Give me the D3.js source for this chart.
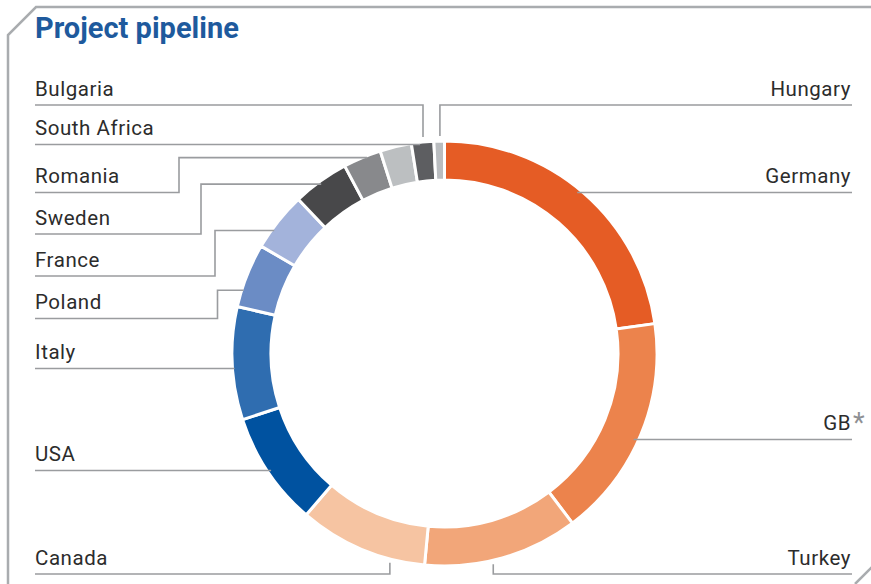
<!DOCTYPE html>
<html>
<head>
<meta charset="utf-8">
<script src="https://cdn.jsdelivr.net/npm/d3@7"></script>
<style>
  html, body { margin: 0; padding: 0; background: #ffffff; }
  svg { display: block; }
</style>
</head>
<body>
<svg id="chart" width="871" height="584"></svg>
<script>
// ---- data (share of pipeline, %) ----
const countries = ["Germany", "GB", "Turkey", "Canada", "USA", "Italy", "Poland", "France", "Sweden", "Romania", "South Africa", "Bulgaria", "Hungary"];
const shares    = [22.8, 17.0, 11.8, 9.8, 8.7, 8.6, 4.9, 4.5, 4.3, 2.9, 2.4, 1.7, 0.8];
const colors    = ["#E55C25", "#EC834C", "#F2A679", "#F6C4A2", "#0052A0", "#2F6DB0", "#6B8CC5", "#A3B3DB", "#48484A", "#88898C", "#BCBFC1", "#5D5E61", "#BABDC0"];
const title = "Project pipeline";
const footnoteMark = { GB: "*" };

// ---- label layout (annotation positions) ----
// type: "h" straight horizontal, "elbow" step line, "v" horizontal then vertical to ring
const labelLayout = [
  { name: "Bulgaria",     side: "left",  lineY: 105,   type: "v",     frac: 0.52, gap: 5 },
  { name: "South Africa", side: "left",  lineY: 144.5, type: "h",     gap: 14 },
  { name: "Romania",      side: "left",  lineY: 192.5, type: "elbow", elbowX: 179,   frac: 0.5,  gap: 5 },
  { name: "Sweden",       side: "left",  lineY: 234,   type: "elbow", elbowX: 201,   frac: 0.41, gap: 5 },
  { name: "France",       side: "left",  lineY: 276,   type: "elbow", elbowX: 215,   frac: 0.31, gap: 3 },
  { name: "Poland",       side: "left",  lineY: 318.5, type: "elbow", elbowX: 217.5, frac: 0.26, gap: 2 },
  { name: "Italy",        side: "left",  lineY: 368.5, type: "h",     gap: 2 },
  { name: "USA",          side: "left",  lineY: 470.5, type: "h",     gap: 4 },
  { name: "Canada",       side: "left",  lineY: 574,   type: "v",     frac: 0.27, gap: 4 },
  { name: "Hungary",      side: "right", lineY: 105,   type: "v",     frac: 0.57, gap: 5 },
  { name: "Germany",      side: "right", lineY: 192.5, type: "h",     gap: 6 },
  { name: "GB",           side: "right", lineY: 439.5, type: "h",     gap: 5 },
  { name: "Turkey",       side: "right", lineY: 574,   type: "v",     frac: 0.56, gap: 4 }
];

const W = 871, H = 584;
const cx = 444.5, cy = 353.5, outerR = 212.5, innerR = 173.5;
const leftX = 35, rightX = 852;
const textColor = "#2c2c2c", lineColor = "#9a9c9f", frameColor = "#a9acaf";
const labelFont = "Roboto, 'Open Sans', sans-serif";

const svg = d3.select("#chart");

// frame
svg.append("path")
  .attr("d", "M871,7 L36,7 L8,35 L8,584")
  .attr("fill", "none").attr("stroke", frameColor).attr("stroke-width", 2.5);
svg.append("path")
  .attr("d", "M872,567 L855,584")
  .attr("fill", "none").attr("stroke", frameColor).attr("stroke-width", 2.5);

// title
svg.append("text")
  .attr("x", 35).attr("y", 38)
  .attr("font-family", labelFont).attr("font-weight", "bold")
  .attr("font-size", 29).attr("fill", "#1E5A9D")
  .text(title);

// donut
const data = countries.map((c, i) => ({ name: c, value: shares[i], color: colors[i] }));
const pie = d3.pie().value(d => d.value).sort(null);
const arcs = pie(data);
const arc = d3.arc().innerRadius(innerR).outerRadius(outerR);
const g = svg.append("g").attr("transform", `translate(${cx},${cy})`);
g.selectAll("path.seg").data(arcs).join("path")
  .attr("class", "seg")
  .attr("d", arc)
  .attr("fill", d => d.data.color)
  .attr("stroke", "#ffffff").attr("stroke-width", 3).attr("stroke-linejoin", "miter");

// labels & leaders
const arcByName = {};
arcs.forEach(a => arcByName[a.data.name] = a);

function ringXAtY(y, side) {
  const dy = y - cy;
  const dx = Math.sqrt(Math.max(0, outerR * outerR - dy * dy));
  return side === "left" ? cx - dx : cx + dx;
}
function ringYAtX(x, top) {
  const dx = x - cx;
  const dy = Math.sqrt(Math.max(0, outerR * outerR - dx * dx));
  return top ? cy - dy : cy + dy;
}

const lg = svg.append("g");
labelLayout.forEach(L => {
  const a = arcByName[L.name];
  const sgn = L.side === "left" ? -1 : 1;
  const startX = L.side === "left" ? leftX : rightX;
  let pts;
  if (L.type === "h") {
    const ex = ringXAtY(L.lineY, L.side) - sgn * L.gap;
    pts = [[startX, L.lineY], [ex, L.lineY]];
  } else if (L.type === "elbow") {
    const ang = a.startAngle + L.frac * (a.endAngle - a.startAngle);
    const ay = cy - outerR * Math.cos(ang);
    const ex = ringXAtY(ay, L.side) - sgn * L.gap;
    pts = [[startX, L.lineY], [L.elbowX, L.lineY], [L.elbowX, ay], [ex, ay]];
  } else {
    const ang = a.startAngle + L.frac * (a.endAngle - a.startAngle);
    const ax = cx + outerR * Math.sin(ang);
    const top = Math.cos(ang) > 0;
    const ey = ringYAtX(ax, top) + (top ? -L.gap : L.gap);
    pts = [[startX, L.lineY], [ax, L.lineY], [ax, ey]];
  }
  lg.append("path")
    .attr("d", d3.line()(pts))
    .attr("fill", "none").attr("stroke", lineColor).attr("stroke-width", 1.6);

  lg.append("text")
    .attr("x", L.side === "left" ? leftX : rightX - 1)
    .attr("y", L.lineY - 9.5)
    .attr("text-anchor", L.side === "left" ? "start" : "end")
    .attr("font-family", labelFont).attr("font-size", 20.5)
    .attr("letter-spacing", 0.55)
    .attr("fill", textColor)
    .text(L.name);

  if (footnoteMark[L.name]) {
    lg.append("text")
      .attr("x", rightX + 1).attr("y", L.lineY - 8)
      .attr("font-family", labelFont).attr("font-size", 27)
      .attr("fill", "#8e9093")
      .text(footnoteMark[L.name]);
  }
});
</script>
</body>
</html>
